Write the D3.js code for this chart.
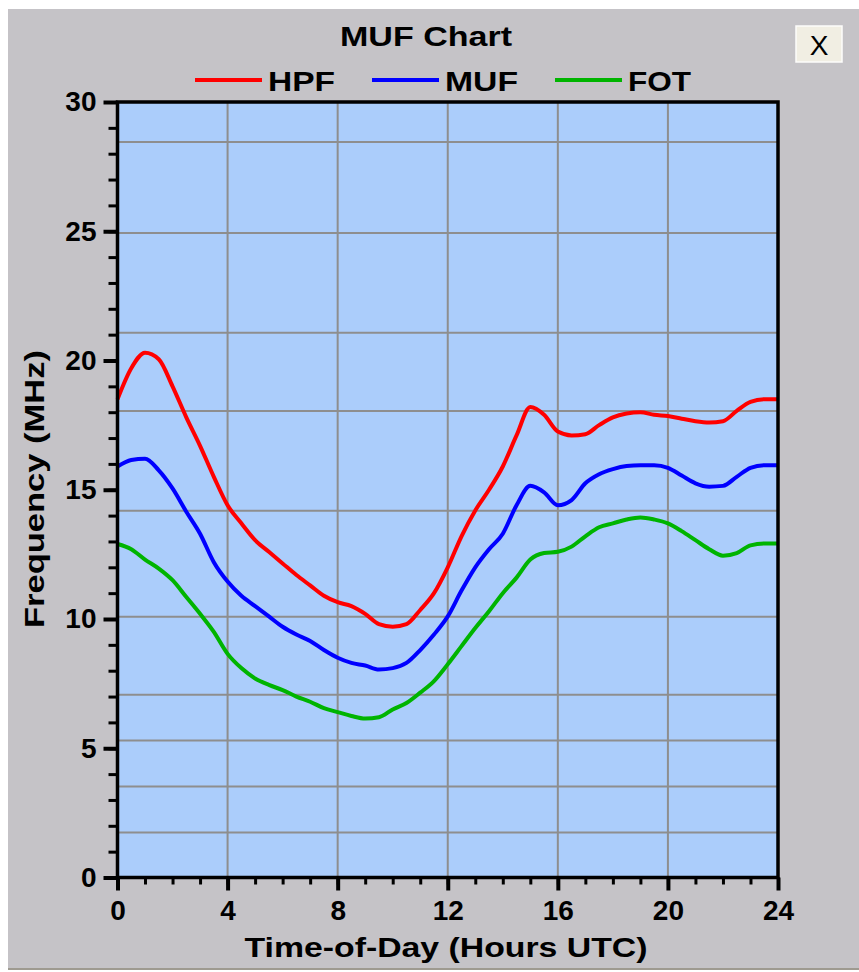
<!DOCTYPE html>
<html><head><meta charset="utf-8">
<script src="https://cdn.jsdelivr.net/npm/d3@7/dist/d3.min.js"></script>
<style>html,body{margin:0;padding:0;background:#fff;}svg{display:block;}</style>
</head><body>
<svg id="c" width="859" height="972"></svg>
<script>
const hours = [0,0.5,1,1.5,2,2.5,3,3.5,4,4.5,5,5.5,6,6.5,7,7.5,8,8.5,9,9.5,10,10.5,11,11.5,12,12.5,13,13.5,14,14.5,15,15.5,16,16.5,17,17.5,18,18.5,19,19.5,20,20.5,21,21.5,22,22.5,23,23.5,24];
const hpf = [18.5,19.7,20.3,20.05,19.0,17.8,16.7,15.5,14.4,13.7,13.05,12.6,12.15,11.7,11.3,10.9,10.65,10.5,10.2,9.8,9.7,9.8,10.35,11.0,12.0,13.2,14.2,15.0,15.9,17.1,18.2,17.9,17.25,17.1,17.15,17.5,17.8,17.95,18.0,17.9,17.85,17.75,17.65,17.6,17.65,18.05,18.4,18.5,18.5];
const muf = [15.9,16.15,16.2,15.75,15.05,14.15,13.3,12.2,11.45,10.9,10.5,10.1,9.7,9.4,9.15,8.8,8.5,8.3,8.2,8.05,8.1,8.3,8.8,9.4,10.1,11.1,12.0,12.7,13.3,14.4,15.15,14.9,14.4,14.6,15.25,15.6,15.8,15.92,15.95,15.95,15.85,15.55,15.25,15.12,15.15,15.5,15.85,15.95,15.95];
const fot = [12.9,12.7,12.3,11.95,11.5,10.85,10.2,9.5,8.65,8.1,7.7,7.45,7.25,7.0,6.8,6.55,6.4,6.25,6.15,6.2,6.5,6.75,7.15,7.6,8.25,8.95,9.65,10.3,11.0,11.6,12.3,12.55,12.6,12.8,13.2,13.55,13.7,13.85,13.93,13.85,13.7,13.4,13.05,12.7,12.45,12.55,12.85,12.92,12.92];
const seriesNames = ["HPF","MUF","FOT"];
const seriesColors = ["#ff0000","#0000ff","#00b400"];
const xTicks = [0,4,8,12,16,20,24];
const yTicks = [0,5,10,15,20,25,30];
const hGrid = [28.45,24.93,21.07,18.05,14.19,10.09,7.07,5.30,3.52,1.74];
const vGrid = [4,8,12,16,20];
const title = "MUF Chart";
const xTitle = "Time-of-Day (Hours UTC)";
const yTitle = "Frequency (MHz)";

const svg = d3.select("#c");
const FONT = "'Liberation Sans', Arial, sans-serif";
const L = 117.5, R = 778, T = 102, B = 877.5;
const x = d3.scaleLinear().domain([0,24]).range([L,R]);
const y = d3.scaleLinear().domain([0,30]).range([B,T]);

// panel
svg.append("rect").attr("x",8).attr("y",9).attr("width",851).attr("height",961).attr("fill","#c5c3c7");
svg.append("rect").attr("x",8).attr("y",968).attr("width",851).attr("height",2).attr("fill","#9e9a90");

// plot bg
svg.append("rect").attr("x",L).attr("y",T).attr("width",R-L).attr("height",B-T).attr("fill","#abcdfb");

// grid
const g = svg.append("g");
g.selectAll(".hg").data(hGrid).join("line")
  .attr("x1",L).attr("x2",R).attr("y1",d=>y(d)).attr("y2",d=>y(d))
  .attr("stroke","#8e8e8e").attr("stroke-width",2);
g.selectAll(".vg").data(vGrid).join("line")
  .attr("y1",T).attr("y2",B).attr("x1",d=>x(d)).attr("x2",d=>x(d))
  .attr("stroke","#8e8e8e").attr("stroke-width",2);

// lines
const data = [hpf,muf,fot];
const line = d3.line().curve(d3.curveMonotoneX).x((d,i)=>x(hours[i])).y(d=>y(d));
svg.selectAll(".s").data(data).join("path")
  .attr("d",d=>line(d)).attr("fill","none")
  .attr("stroke",(d,i)=>seriesColors[i]).attr("stroke-width",4).attr("stroke-linejoin","round");

// frame
svg.append("rect").attr("x",L).attr("y",T).attr("width",R-L).attr("height",B-T)
  .attr("fill","none").attr("stroke","#000").attr("stroke-width",3.5);

// axes
const yAxis = d3.axisLeft(y).tickValues(yTicks).tickSize(14).tickPadding(7).tickFormat(d3.format("d"));
const ya = svg.append("g").attr("transform",`translate(${L},0)`).call(yAxis);
const yMinor = d3.axisLeft(y).ticks(30).tickSize(9).tickFormat("");
const ym = svg.append("g").attr("transform",`translate(${L},0)`).call(yMinor);
const xAxis = d3.axisBottom(x).tickValues(xTicks).tickSize(13).tickPadding(10).tickFormat(d3.format("d"));
const xa = svg.append("g").attr("transform",`translate(0,${B})`).call(xAxis);
const xMinor = d3.axisBottom(x).ticks(24).tickSize(7).tickFormat("");
const xm = svg.append("g").attr("transform",`translate(0,${B})`).call(xMinor);
[ya,ym,xa,xm].forEach(a=>{
  a.select(".domain").remove();
  a.selectAll("line").attr("stroke","#000").attr("stroke-width",3);
  a.selectAll("text").attr("font-family",FONT).attr("font-weight","bold").attr("font-size",28).attr("fill","#000");
});
ya.selectAll("line").attr("stroke-width",4);
xa.selectAll("line").attr("stroke-width",4);

// titles
svg.append("text").attr("x",426).attr("y",46).attr("text-anchor","middle")
  .attr("font-family",FONT).attr("font-weight","bold").attr("font-size",28)
  .attr("textLength",172).attr("lengthAdjust","spacingAndGlyphs").text(title);
svg.append("text").attr("x",446).attr("y",957).attr("text-anchor","middle")
  .attr("font-family",FONT).attr("font-weight","bold").attr("font-size",28)
  .attr("textLength",403).attr("lengthAdjust","spacingAndGlyphs").text(xTitle);
svg.append("text").attr("transform","translate(44,489) rotate(-90)").attr("text-anchor","middle")
  .attr("font-family",FONT).attr("font-weight","bold").attr("font-size",28)
  .attr("textLength",278).attr("lengthAdjust","spacingAndGlyphs").text(yTitle);

// legend
const legX = [195,372,555];
const lg = svg.selectAll(".lg").data(seriesNames).join("g");
lg.append("line").attr("x1",(d,i)=>legX[i]).attr("x2",(d,i)=>legX[i]+67)
  .attr("y1",80).attr("y2",80).attr("stroke",(d,i)=>seriesColors[i]).attr("stroke-width",4);
lg.append("text").attr("x",(d,i)=>legX[i]+73).attr("y",91)
  .attr("font-family",FONT).attr("font-weight","bold").attr("font-size",28)
  .attr("textLength",(d,i)=>[67,73,63][i]).attr("lengthAdjust","spacingAndGlyphs").text(d=>d);

// close button
svg.append("rect").attr("x",796).attr("y",26).attr("width",46).attr("height",36)
  .attr("fill","#f1eee3").attr("stroke","#fdfdfb").attr("stroke-width",1.5);
svg.append("text").attr("x",819).attr("y",55).attr("text-anchor","middle")
  .attr("font-family",FONT).attr("font-size",28).attr("fill","#000").text("X");
</script>
</body></html>
